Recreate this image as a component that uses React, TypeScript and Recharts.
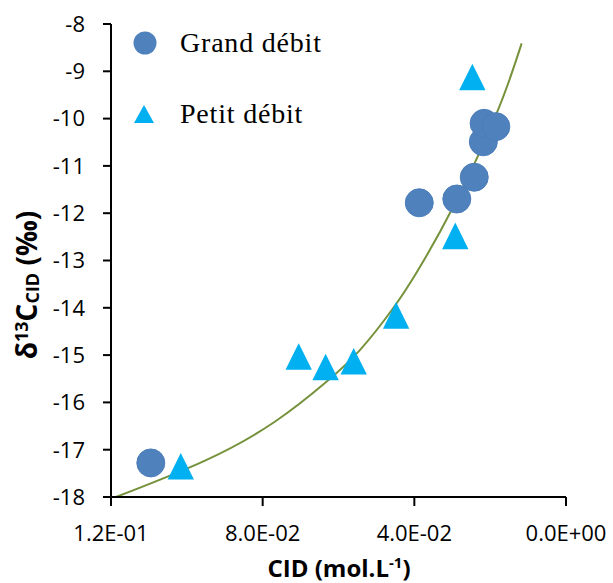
import React from "react";
import { ComposedChart, Scatter, Line, XAxis, YAxis, Legend } from "recharts";

const grandX = [0.1095, 0.0387, 0.0288, 0.0242, 0.0218, 0.0216, 0.0185];
const grandY = [-17.28, -11.78, -11.7, -11.24, -10.49, -10.1, -10.17];

const petitX = [0.0247, 0.0292, 0.0448, 0.0705, 0.0634, 0.056, 0.1016];
const petitY = [-9.12, -12.48, -14.16, -15.03, -15.25, -15.13, -17.35];

const curveX = [0.1187, 0.0952, 0.0768, 0.0631, 0.0543, 0.0456, 0.039, 0.0297, 0.0183, 0.0117];
const curveY = [-18.0, -17.23, -16.41, -15.56, -14.89, -14.01, -13.2, -11.86, -9.89, -8.41];

const xTicks = [0, 0.04, 0.08, 0.12];
const xTickLabels = ["0.0E+00", "4.0E-02", "8.0E-02", "1.2E-01"];
const yTicks = [-18, -17, -16, -15, -14, -13, -12, -11, -10, -9, -8];

const grandData = grandX.map((x, i) => ({ x, y: grandY[i] }));
const petitData = petitX.map((x, i) => ({ x, y: petitY[i] }));
const curveData = curveX.map((x, i) => ({ x, y: curveY[i] }));

const CIRCLE = "#4F81BD";
const TRI = "#00B0F0";
const LINE = "#76923C";
const TICK_FONT = "'Open Sans', sans-serif";

const CircleShape = (props: any) => {
  const { cx, cy } = props;
  if (cx == null || cy == null) return null;
  return <circle cx={cx} cy={cy} r={14} fill={CIRCLE} stroke="#4A7DBA" strokeWidth={1} />;
};

const TriangleShape = (props: any) => {
  const { cx, cy } = props;
  if (cx == null || cy == null) return null;
  const h = 13.3;
  const w = 13.2;
  return (
    <polygon
      points={`${cx},${cy - h} ${cx - w},${cy + h} ${cx + w},${cy + h}`}
      fill={TRI}
    />
  );
};

const LegendContent = () => (
  <svg width={260} height={115} style={{ display: "block" }}>
    <circle cx={25} cy={23} r={11.5} fill={CIRCLE} />
    <text x={60} y={32} fontFamily="'Liberation Serif', 'Times New Roman', serif" fontSize={28} letterSpacing={0.8} fill="#000">
      Grand débit
    </text>
    <polygon points={`24,85 14,103 34,103`} fill={TRI} />
    <text x={60} y={103} fontFamily="'Liberation Serif', 'Times New Roman', serif" fontSize={28} letterSpacing={0.8} fill="#000">
      Petit débit
    </text>
  </svg>
);

const XLabel = () => (
  <text
    x={339}
    y={577}
    textAnchor="middle"
    fontFamily={TICK_FONT}
    fontWeight="bold"
    fontSize={24}
    fill="#000"
  >
    CID (mol.L
    <tspan fontSize={15} dy={-9}>-1</tspan>
    <tspan dy={9}>)</tspan>
  </text>
);

const YLabel = () => (
  <text
    x={37}
    y={285}
    transform="rotate(-90, 37, 285)"
    textAnchor="middle"
    fontFamily={TICK_FONT}
    fontWeight="bold"
    fontSize={28}
    fill="#000"
  >
    δ
    <tspan fontSize={18} dy={-9}>13</tspan>
    <tspan dy={9}>C</tspan>
    <tspan fontSize={18} dy={2}>CID</tspan>
    <tspan dy={-2}> (‰)</tspan>
  </text>
);

export default function App() {
  return (
    <div style={{ position: "absolute", left: 0, top: 0, width: 613, height: 583, background: "#fff" }}>
      <ComposedChart
        width={613}
        height={583}
        margin={{ top: 24, right: 47, bottom: 36, left: 50 }}
      >
        <XAxis
          type="number"
          dataKey="x"
          domain={[0, 0.12]}
          ticks={xTicks}
          reversed
          allowDataOverflow
          height={50}
          tickFormatter={(v: number) => {
            const i = xTicks.findIndex((t) => Math.abs(t - v) < 1e-9);
            return i >= 0 ? xTickLabels[i] : String(v);
          }}
          axisLine={{ stroke: "#000", strokeWidth: 2 }}
          tickLine={{ stroke: "#000", strokeWidth: 2 }}
          tickSize={9}
          tickMargin={19}
          tick={{ fill: "#000", fontSize: 22, fontFamily: TICK_FONT }}
          label={<XLabel />}
        />
        <YAxis
          type="number"
          dataKey="y"
          domain={[-18, -8]}
          ticks={yTicks}
          allowDataOverflow
          width={61}
          axisLine={{ stroke: "#000", strokeWidth: 2 }}
          tickLine={{ stroke: "#000", strokeWidth: 2 }}
          tickSize={8}
          tickMargin={18}
          tick={{ fill: "#000", fontSize: 22, fontFamily: TICK_FONT }}
          label={<YLabel />}
        />
        <Legend
          layout="horizontal"
          verticalAlign="middle"
          align="center"
          content={<LegendContent />}
          wrapperStyle={{ position: "absolute", left: 120, top: 20, width: 260, height: 115 }}
        />
        <Scatter
          name="Grand débit"
          data={grandData}
          dataKey="y"
          shape={<CircleShape />}
          isAnimationActive={false}
        />
        <Scatter
          name="Petit débit"
          data={petitData}
          dataKey="y"
          shape={<TriangleShape />}
          isAnimationActive={false}
        />
        <Line
          data={curveData}
          dataKey="y"
          type="natural"
          stroke={LINE}
          strokeWidth={2}
          dot={false}
          activeDot={false}
          legendType="none"
          isAnimationActive={false}
        />
      </ComposedChart>
    </div>
  );
}
